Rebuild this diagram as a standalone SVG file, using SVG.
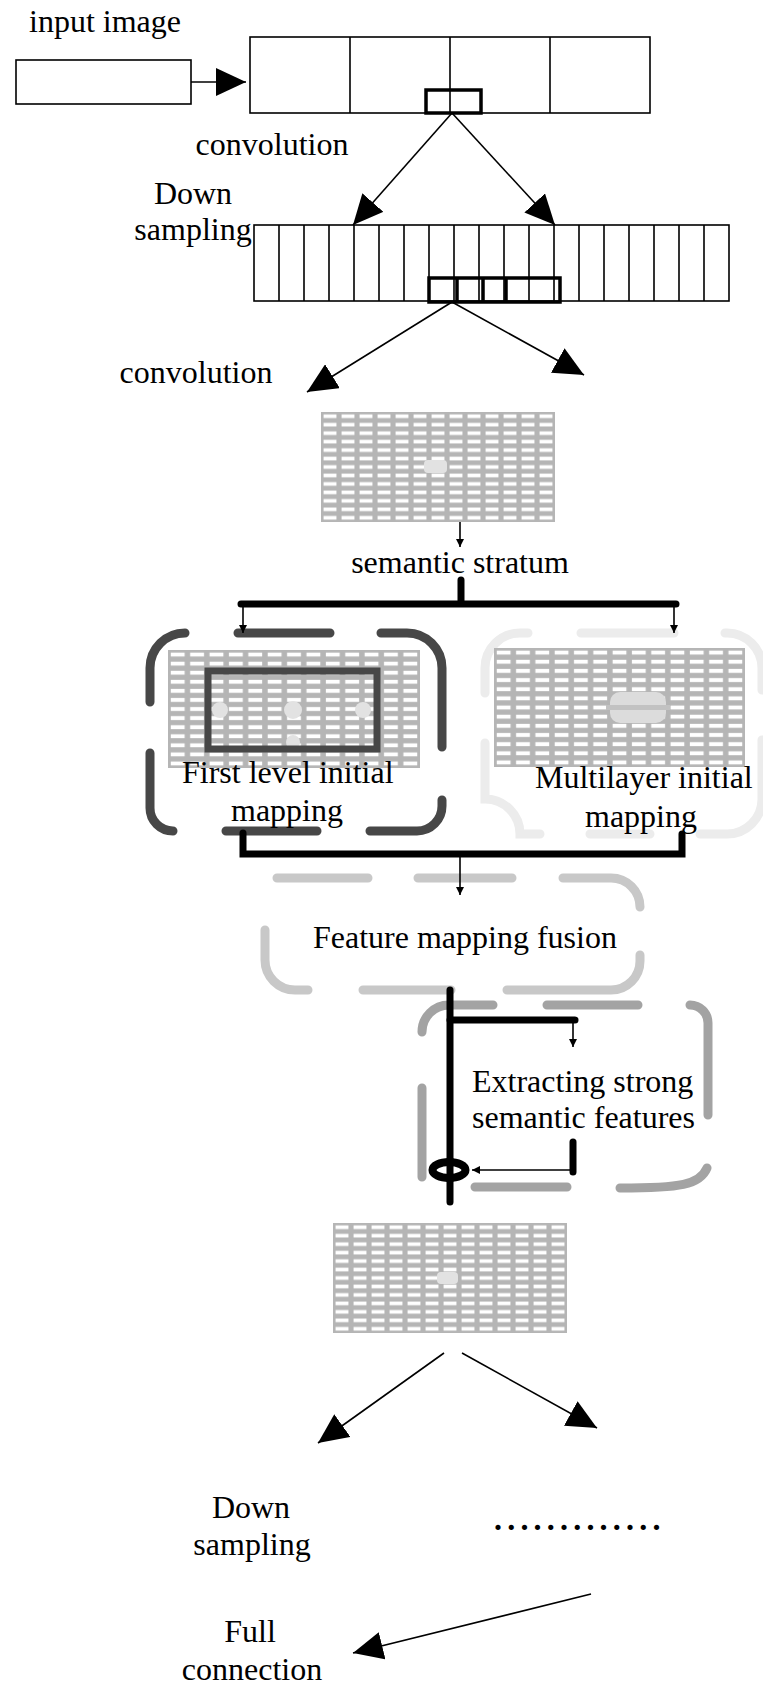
<svg xmlns="http://www.w3.org/2000/svg" width="763" height="1684" viewBox="0 0 763 1684">
<style>
text{font-family:"Liberation Serif","Times New Roman",serif;font-size:32px;fill:#000}
.thin{stroke:#000;stroke-width:1.6;fill:none}
.box{stroke:#000;stroke-width:1.6;fill:#fff}
.bold{stroke:#000;stroke-width:3.5;fill:none}
.thick{stroke:#000;stroke-width:7;fill:none;stroke-linecap:round}
.dk{stroke:#474747;stroke-width:9;fill:none;stroke-linecap:round}
.vl{stroke:#ececec;stroke-width:9;fill:none;stroke-linecap:round}
.lg{stroke:#c8c8c8;stroke-width:9;fill:none;stroke-linecap:round}
.mg{stroke:#a3a3a3;stroke-width:9;fill:none;stroke-linecap:round}
.grid{fill:url(#cells)}
.hl{fill:#e2e2e2}
</style>
<defs>
<pattern id="cells" patternUnits="objectBoundingBox" patternContentUnits="objectBoundingBox" width="0.076923" height="0.076923">
<rect width="0.076923" height="0.076923" fill="#b5b5b5"/>
<rect x="0.011" y="0.022" width="0.055" height="0.033" fill="#fff"/>
</pattern>
<marker id="big" viewBox="0 0 30 28" refX="30" refY="14" markerWidth="30" markerHeight="28" markerUnits="userSpaceOnUse" orient="auto"><path d="M0,0L30,14L0,28z" fill="#000"/></marker>
<marker id="small" viewBox="0 0 8 8" refX="8" refY="4" markerWidth="9" markerHeight="8" markerUnits="userSpaceOnUse" orient="auto"><path d="M0,0L8,4L0,8z" fill="#000"/></marker>
</defs>

<g id="input">
<text x="29" y="32">input image</text>
<rect class="box" x="16" y="60" width="175" height="44"/>
</g>

<g id="conv1">
<rect class="box" x="250" y="37" width="400" height="76"/>
<path class="thin" d="M350,37V113M450,37V113M550,37V113"/>
<rect class="bold" x="426" y="90" width="55" height="23" fill="#fff"/>
<text x="272" y="155" text-anchor="middle">convolution</text>
</g>

<g id="down1">
<text x="193" y="204" text-anchor="middle">Down</text>
<text x="193" y="240" text-anchor="middle">sampling</text>
<rect class="box" x="254" y="225" width="475" height="76"/>
<path class="thin" d="M279,225V301M304,225V301M329,225V301M354,225V301M379,225V301M404,225V301M429,225V301M454,225V301M479,225V301M504,225V301M529,225V301M554,225V301M579,225V301M604,225V301M629,225V301M654,225V301M679,225V301M704,225V301"/>
<path class="bold" d="M429,278H560V302H429ZM457,278V302M483,278V302M506,278V302"/>
<text x="196" y="383" text-anchor="middle">convolution</text>
</g>

<g id="map1">
<rect class="grid" x="321" y="412" width="234" height="110"/>
<rect class="hl" x="424" y="460" width="23" height="13" rx="4"/>
</g>

<g id="semantic">
<text x="460" y="573" text-anchor="middle">semantic stratum</text>
</g>

<g id="firstlevel">
<path class="dk" d="M150,702V668A35,35 0 0 1 185,633M238,633H330M381,633H407A35,35 0 0 1 442,668V747M442,800V806A25,25 0 0 1 417,831H370M317,831H226M173,831A23,23 0 0 1 150,808V753"/>
<rect class="grid" x="168" y="650" width="252" height="118"/>
<circle class="hl" cx="220" cy="710" r="8"/>
<circle class="hl" cx="293" cy="710" r="9"/>
<circle class="hl" cx="363" cy="710" r="8"/>
<circle class="hl" cx="293" cy="742" r="7"/>
<rect x="208" y="671" width="169" height="78" fill="none" stroke="#474747" stroke-width="7"/>
<text x="182" y="783">First level initial</text>
<text x="287" y="821" text-anchor="middle">mapping</text>
</g>

<g id="multilayer">
<path class="vl" d="M485,693V668A35,35 0 0 1 520,633H528M581,633H674M725,633H727A35,35 0 0 1 762,668V690M762,740V799A35,35 0 0 1 727,834H700M485,743V799A35,35 0 0 1 520,834H540M590,834H650"/>
<rect class="grid" x="494" y="648" width="251" height="119"/>
<rect x="610" y="692" width="56" height="31" rx="10" fill="#dcdcdc"/>
<rect x="606" y="705" width="64" height="5" fill="#c2c2c2"/>
<text x="535" y="788">Multilayer initial</text>
<text x="641" y="827" text-anchor="middle">mapping</text>
</g>

<g id="fusion">
<path class="lg" d="M277,878H368M418,878H512M563,878H611A29,29 0 0 1 640,907M640,955V961A29,29 0 0 1 611,990H507M451,990H363M308,990H295A30,30 0 0 1 265,960V930"/>
<text x="313" y="948">Feature mapping fusion</text>
</g>

<g id="extract">
<path class="mg" d="M422,1032A27,27 0 0 1 449,1005H493M547,1005H638M690,1005A18,18 0 0 1 708,1023V1115M707,1168C700,1185 680,1188 620,1188M475,1187H567M422,1088V1177"/>
<text x="472" y="1092">Extracting strong</text>
<text x="472" y="1128">semantic features</text>
</g>

<g id="map4">
<rect class="grid" x="333" y="1223" width="234" height="110"/>
<rect class="hl" x="437" y="1272" width="21" height="12" rx="4"/>
</g>

<g id="down2">
<text x="251" y="1518" text-anchor="middle">Down</text>
<text x="252" y="1555" text-anchor="middle">sampling</text>
<text x="494" y="1530" font-weight="bold" letter-spacing="5.2">.............</text>
</g>

<g id="full">
<text x="250" y="1642" text-anchor="middle">Full</text>
<text x="252" y="1680" text-anchor="middle">connection</text>
</g>

<g id="connectors">
<path class="thin" d="M191,82H246" marker-end="url(#big)"/>
<path class="thin" d="M452,113L353,225" marker-end="url(#big)"/>
<path class="thin" d="M452,113L555,225" marker-end="url(#big)"/>
<path class="thin" d="M452,302L307,392" marker-end="url(#big)"/>
<path class="thin" d="M452,302L584,375" marker-end="url(#big)"/>
<path class="thin" d="M460,522V547" marker-end="url(#small)"/>
<path class="thick" d="M461,580V604M241,604H676"/>
<path class="thin" stroke-width="2" d="M243,604V633" marker-end="url(#small)"/>
<path class="thin" stroke-width="2" d="M674,604V633" marker-end="url(#small)"/>
<path class="thick" d="M243,833V854H682V834"/>
<path class="thin" stroke-width="2" d="M460,857V895" marker-end="url(#small)"/>
<path class="thick" d="M450,990V1202"/>
<path class="thick" stroke-width="6" d="M450,1020H575"/>
<path class="thin" stroke-width="2" d="M573,1020V1047" marker-end="url(#small)"/>
<path class="thick" stroke-width="6" d="M573,1142V1172"/>
<path class="thin" stroke-width="1.5" d="M573,1170H472" marker-end="url(#small)"/>
<ellipse cx="449" cy="1170" rx="16.5" ry="8" fill="#fff" stroke="#000" stroke-width="8"/>
<path class="thick" d="M450,1160V1180"/>
<path class="thin" d="M444,1353L318,1443" marker-end="url(#big)"/>
<path class="thin" d="M462,1353L597,1428" marker-end="url(#big)"/>
<path class="thin" d="M591,1594L353,1653" marker-end="url(#big)"/>
</g>
</svg>
